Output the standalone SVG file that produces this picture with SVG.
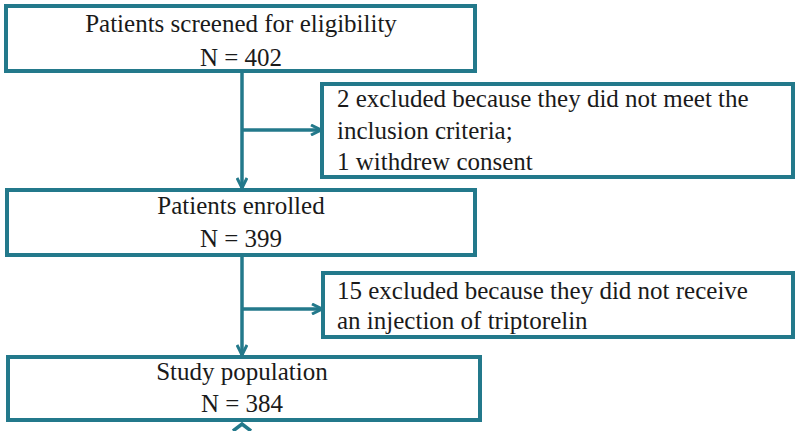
<svg xmlns="http://www.w3.org/2000/svg" width="800" height="431" viewBox="0 0 800 431">
<style>
.box{fill:#fff;stroke:#23798b;stroke-width:4}
.ln{fill:none;stroke:#23798b;stroke-width:3.5}
.t{font-family:serif;font-size:25px;fill:#1a1a1a}
.c{text-anchor:middle}
</style>
<defs>
<marker id="ah" viewBox="0 0 12 12" refX="11" refY="6" markerWidth="12" markerHeight="12" markerUnits="userSpaceOnUse" orient="auto">
<path d="M1,1 L11,6 L1,11" fill="none" stroke="#23798b" stroke-width="3"/>
</marker>
</defs>
<rect width="800" height="431" fill="#fff"/>
<g id="connectors">
<line class="ln" x1="242" y1="71" x2="242" y2="188" marker-end="url(#ah)"/>
<line class="ln" x1="242" y1="130" x2="321" y2="130" marker-end="url(#ah)"/>
<line class="ln" x1="242" y1="256" x2="242" y2="355" marker-end="url(#ah)"/>
<line class="ln" x1="242" y1="309" x2="322" y2="309" marker-end="url(#ah)"/>
<path class="ln" d="M233,431 L242,424 L251,431"/>
</g>
<g id="n1">
<rect class="box" x="6" y="6" width="469" height="65"/>
<text class="t c" x="241" y="32">Patients screened for eligibility</text>
<text class="t c" x="241" y="66">N = 402</text>
</g>
<g id="n2">
<rect class="box" x="322" y="84" width="471" height="93"/>
<text class="t" x="337" y="107">2 excluded because they did not meet the</text>
<text class="t" x="337" y="139">inclusion criteria;</text>
<text class="t" x="337" y="170">1 withdrew consent</text>
</g>
<g id="n3">
<rect class="box" x="7" y="190" width="468" height="65"/>
<text class="t c" x="241" y="214">Patients enrolled</text>
<text class="t c" x="241" y="247">N = 399</text>
</g>
<g id="n4">
<rect class="box" x="323" y="273" width="470" height="64"/>
<text class="t" x="337" y="299">15 excluded because they did not receive</text>
<text class="t" x="337" y="329">an injection of triptorelin</text>
</g>
<g id="n5">
<rect class="box" x="8" y="357" width="472" height="63"/>
<text class="t c" x="242" y="380">Study population</text>
<text class="t c" x="242" y="412">N = 384</text>
</g>
</svg>
